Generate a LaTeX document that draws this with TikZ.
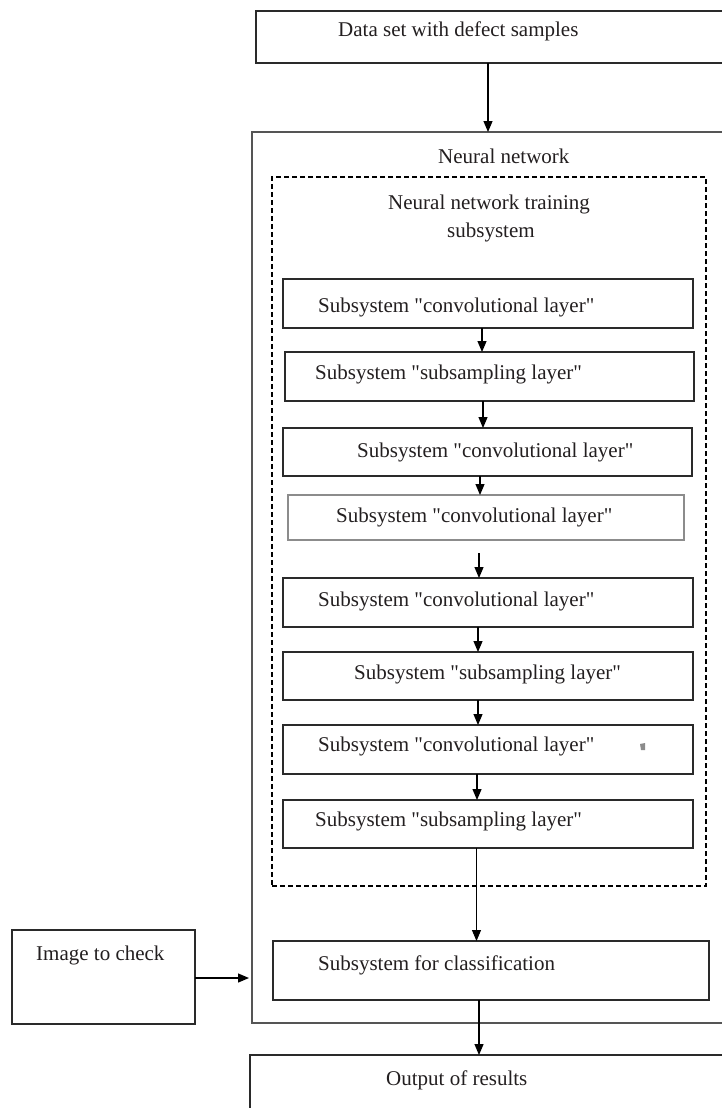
\documentclass[tikz,border=0pt]{standalone}
\usepackage{fontspec}
\setmainfont{Liberation Serif}[Ligatures=TeXOff]
\usetikzlibrary{arrows.meta}
\definecolor{txt}{HTML}{231F20}
\definecolor{edge}{HTML}{2A2A2A}
\definecolor{outeredge}{HTML}{555555}
\definecolor{lightedge}{HTML}{8C8C8C}
\tikzset{
  bx/.style={draw=edge, line width=1.3pt, rectangle, inner sep=0pt, outer sep=0pt, anchor=north west},
  lbl/.style={anchor=base west, inner sep=0pt, text=txt, font=\fontsize{21}{28}\selectfont},
  arr/.style={draw=black, line width=1.2pt, -{Triangle[length=11pt,width=9pt]}},
}
\begin{document}
\begin{tikzpicture}[x=1pt,y=-1pt]
\useasboundingbox (0,0) rectangle (722,1108);
\fill[white] (0,0) rectangle (722,1108);
\clip (0,0) rectangle (722,1108);
% boxes
\node[bx, minimum width=520pt, minimum height=52pt] (top) at (256,11) {};
\node[bx, draw=outeredge, line width=1.1pt, minimum width=520pt, minimum height=891pt] (outer) at (252,132) {};
\node[bx, draw=black, line width=1.1pt, dash pattern=on 5pt off 3pt, minimum width=434pt, minimum height=709pt] (train) at (272,177) {};
\node[bx, minimum width=410pt, minimum height=49pt] (b1) at (283,279) {};
\node[bx, minimum width=409pt, minimum height=49pt] (b2) at (285,352) {};
\node[bx, minimum width=409pt, minimum height=48pt] (b3) at (283,428) {};
\node[bx, draw=lightedge, minimum width=396pt, minimum height=45pt] (b4) at (288,495) {};
\node[bx, minimum width=410pt, minimum height=49pt] (b5) at (283,578) {};
\node[bx, minimum width=410pt, minimum height=48pt] (b6) at (283,652) {};
\node[bx, minimum width=410pt, minimum height=49pt] (b7) at (283,725) {};
\node[bx, minimum width=410pt, minimum height=48pt] (b8) at (283,800) {};
\node[bx, minimum width=436pt, minimum height=59pt] (cls) at (273,941) {};
\node[bx, minimum width=183pt, minimum height=94pt] (img) at (12,930) {};
\node[bx, minimum width=520pt, minimum height=100pt] (out) at (250,1055) {};
% texts
\node[lbl] (ttop) at (338,37) {Data set with defect samples};
\node[lbl] (touter) at (438,163) {Neural network};
\node[lbl] (ttrain1) at (388,209) {Neural network training};
\node[lbl] (ttrain2) at (447,237) {subsystem};
\node[lbl] (t1) at (318,312) {Subsystem "convolutional layer"};
\node[lbl] (t2) at (315,379) {Subsystem "subsampling layer"};
\node[lbl] (t3) at (357,457) {Subsystem "convolutional layer"};
\node[lbl] (t4) at (336,522) {Subsystem "convolutional layer"};
\node[lbl] (t5) at (318,606) {Subsystem "convolutional layer"};
\node[lbl] (t6) at (354,679) {Subsystem "subsampling layer"};
\node[lbl] (t7) at (318,751) {Subsystem "convolutional layer"};
\node[lbl] (t8) at (315,826) {Subsystem "subsampling layer"};
\node[lbl] (tcls) at (318,970) {Subsystem for classification};
\node[lbl] (timg) at (36,960) {Image to check};
\node[lbl] (tout) at (386,1085) {Output of results};
% small grey mark
\fill[lightedge] (640,744) -- (645,743) -- (645,750) -- (641,750) -- cycle;
% connector columns
\coordinate (c0) at (488,0);
\coordinate (c1) at (482,0);
\coordinate (c2) at (483,0);
\coordinate (c3) at (480,0);
\coordinate (c4) at (479,0);
\coordinate (c5) at (478,0);
\coordinate (c6) at (478,0);
\coordinate (c7) at (477,0);
\coordinate (c8) at (476.5,0);
\coordinate (c9) at (479,0);
\coordinate (c4s) at (479,553);
% connectors
\draw[arr] (top.south -| c0) -- (outer.north -| c0);
\draw[arr] (b1.south -| c1) -- (b2.north -| c1);
\draw[arr] (b2.south -| c2) -- (b3.north -| c2);
\draw[arr] (b3.south -| c3) -- (b4.north -| c3);
\draw[arr] (c4s) -- (b5.north -| c4);
\draw[arr] (b5.south -| c5) -- (b6.north -| c5);
\draw[arr] (b6.south -| c6) -- (b7.north -| c6);
\draw[arr] (b7.south -| c7) -- (b8.north -| c7);
\draw[arr, line width=1pt] (b8.south -| c8) -- (cls.north -| c8);
\draw[arr] (cls.south -| c9) -- (out.north -| c9);
\draw[arr] ([yshift=-1pt]img.east) -- ([xshift=-3pt,yshift=-1pt]img.east -| outer.west);
\end{tikzpicture}
\end{document}
